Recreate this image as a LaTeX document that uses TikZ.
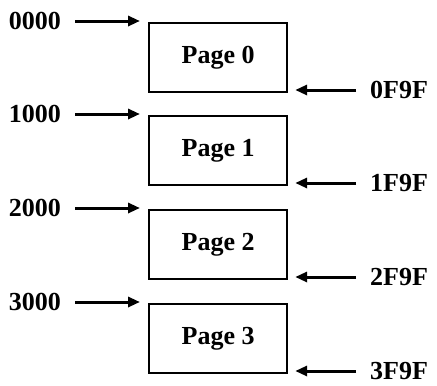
\documentclass[tikz,border=0pt]{standalone}
\usepackage{fontspec}
\setmainfont{Liberation Serif}
\usetikzlibrary{arrows.meta}
\begin{document}
\begin{tikzpicture}[x=1pt,y=-1pt,
  pagebox/.style={draw,line width=2.2pt,minimum width=138pt,minimum height=69pt,inner sep=0pt,
     font=\fontsize{26}{29}\selectfont\bfseries},
  lab/.style={inner sep=0pt,text depth=0pt,font=\fontsize{26}{29}\selectfont\bfseries},
  arr/.style={line width=3pt,-{Triangle[length=12pt,width=10pt]}}]
\useasboundingbox (0,0) rectangle (437,386);
\foreach \i/\t in {0/22,1/115,2/209,3/303}{
  \node[pagebox,anchor=north west] (p\i) at (148,\t) {Page \i};
  \node[lab,anchor=east] (a\i) at (61,\t-1) {\i000};
  \node[lab,anchor=west] (b\i) at (370,\t+68) {\i F9F};
  \draw[arr] ([xshift=14pt]a\i.east) -- ([xshift=-8pt]a\i.east -| p\i.west);
  \draw[arr] ([xshift=-14pt]b\i.west) -- ([xshift=7pt]b\i.west -| p\i.east);
}
\end{tikzpicture}
\end{document}
